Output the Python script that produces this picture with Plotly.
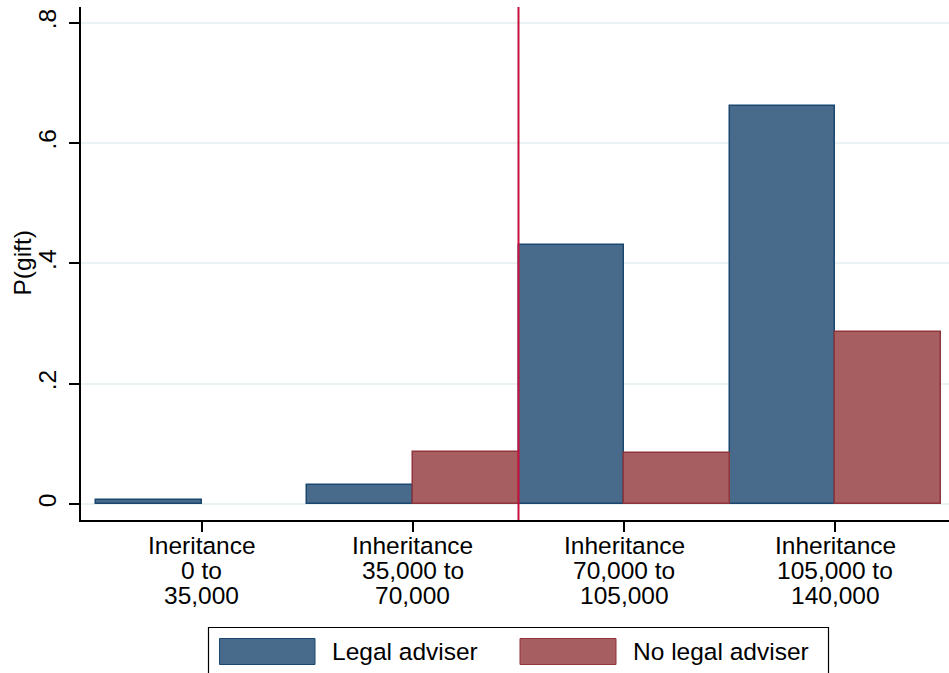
import plotly.graph_objects as go

# Data
categories = ["Ineritance<br>0 to<br>35,000",
              "Inheritance<br>35,000 to<br>70,000",
              "Inheritance<br>70,000 to<br>105,000",
              "Inheritance<br>105,000 to<br>140,000"]
legal_adviser = [0.007, 0.031, 0.430, 0.661]
no_legal_adviser = [0.0, 0.086, 0.084, 0.286]
series_names = ["Legal adviser", "No legal adviser"]
y_ticks = [0, 0.2, 0.4, 0.6, 0.8]
y_ticktext = ["0", ".2", ".4", ".6", ".8"]
y_title = "P(gift)"
cutoff = 1.5  # vertical reference line between groups

FONT = "Liberation Sans, Arial, sans-serif"
FS = 24.5
BLUE_FILL, BLUE_EDGE = "#486b8b", "#1a476f"
RED_FILL, RED_EDGE = "#a65e61", "#90353b"

x = list(range(len(categories)))


def edge_widths(vals):
    # zero-height bars are not drawn in the original
    return [0 if v == 0 else 1.5 for v in vals]


fig = go.Figure()
fig.add_trace(go.Bar(x=x, y=legal_adviser, name=series_names[0],
                     marker=dict(color=BLUE_FILL,
                                 line=dict(color=BLUE_EDGE, width=edge_widths(legal_adviser)))))
fig.add_trace(go.Bar(x=x, y=no_legal_adviser, name=series_names[1],
                     marker=dict(color=RED_FILL,
                                 line=dict(color=RED_EDGE, width=edge_widths(no_legal_adviser)))))

# plot area in pixels: left 81, right 949, top 7, bottom 520
L, R, T, B = 81, 949, 7, 520
W, H = 949, 673


def px(xp):
    return (xp - L) / (R - L)


def py(yp):
    return (B - yp) / (B - T)


# vertical line
fig.add_shape(type="line", xref="x", yref="paper", x0=cutoff, x1=cutoff, y0=0, y1=1,
              line=dict(color="#c8103d", width=2))

# category labels, one annotation per line for Stata-like line spacing
line_y = [545, 570, 595]
annotations = []
for i, lab in enumerate(categories):
    for j, part in enumerate(lab.split("<br>")):
        annotations.append(dict(x=i, y=py(line_y[j]), xref="x", yref="paper",
                                text=part, showarrow=False, xanchor="center", yanchor="middle",
                                font=dict(size=FS, color="black", family=FONT)))

# y axis title
annotations.append(dict(x=px(22), y=0.5, xref="paper", yref="paper", text=y_title,
                        textangle=-90, showarrow=False, xanchor="center", yanchor="middle",
                        font=dict(size=FS, color="black", family=FONT)))

# legend box drawn by hand (big Stata-style swatches)
fig.add_shape(type="rect", xref="paper", yref="paper",
              x0=px(208.5), x1=px(828.5), y0=py(627.5), y1=py(690),
              line=dict(color="black", width=1.2), fillcolor="white", layer="below")
swatches = [(219.5, 315, BLUE_FILL, BLUE_EDGE, 330), (520, 616, RED_FILL, RED_EDGE, 631)]
for (x0, x1, fc, lc, tx), name in zip(swatches, series_names):
    fig.add_shape(type="rect", xref="paper", yref="paper",
                  x0=px(x0), x1=px(x1), y0=py(638.5), y1=py(664.5),
                  line=dict(color=lc, width=1), fillcolor=fc)
    annotations.append(dict(x=px(tx), y=py(651.5), xref="paper", yref="paper",
                            text=name, showarrow=False, xanchor="left", yanchor="middle",
                            font=dict(size=FS, color="black", family=FONT)))

fig.update_layout(
    width=W, height=H,
    margin=dict(l=L, r=W - R, t=T, b=H - B, autoexpand=False),
    paper_bgcolor="white", plot_bgcolor="white",
    barmode="group", bargap=0, bargroupgap=0,
    showlegend=False,
    font=dict(family=FONT, size=FS, color="black"),
    annotations=annotations,
)

fig.update_xaxes(
    range=[-0.5 - 15 / 211.3, 3.5 + 8 / 211.3],
    tickvals=x, showticklabels=False,
    ticks="outside", ticklen=10, tickwidth=1.5, tickcolor="black",
    showline=True, linecolor="black", linewidth=1.5,
    showgrid=False, zeroline=False,
)

fig.update_yaxes(
    range=[-16 / 602, 0.8 + 15.7 / 602],
    tickvals=y_ticks, ticktext=y_ticktext, tickangle=-90,
    ticks="outside", ticklen=10, tickwidth=1.5, tickcolor="black",
    ticklabelstandoff=3,
    tickfont=dict(size=FS, color="black", family=FONT),
    showline=True, linecolor="black", linewidth=1.5,
    showgrid=True, gridcolor="#eaf2f3", gridwidth=1.5,
    zeroline=False,
)

# drop the browser's default body margin so the figure sits at the page corner
fig.write_html("out.html", config={"displayModeBar": False},
               post_script="document.body.style.margin='0';")
